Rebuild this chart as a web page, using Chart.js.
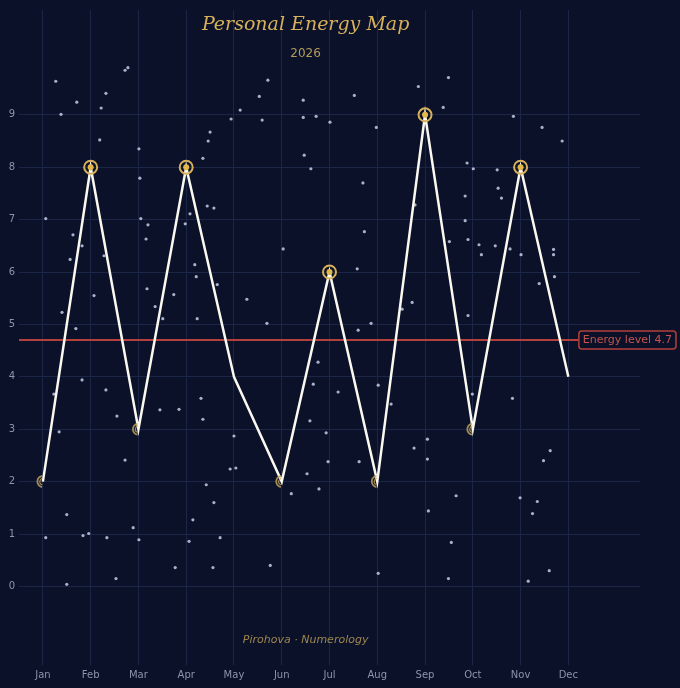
<!DOCTYPE html>
<html>
<head>
<meta charset="utf-8">
<script src="https://cdn.jsdelivr.net/npm/chart.js@4.4.1/dist/chart.umd.min.js"></script>
<style>
  html, body { margin: 0; padding: 0; background: #0a1128; }
  #wrap { width: 680px; height: 688px; }
</style>
</head>
<body>
<div id="wrap"><canvas id="energyChart" width="680" height="688"></canvas></div>
<script>
const months = ['Jan', 'Feb', 'Mar', 'Apr', 'May', 'Jun', 'Jul', 'Aug', 'Sep', 'Oct', 'Nov', 'Dec'];
const energy = [2, 8, 3, 8, 4, 2, 6, 2, 9, 3, 8, 4];
const yTicks = [0, 1, 2, 3, 4, 5, 6, 7, 8, 9];
const ENERGY_LEVEL = 4.7;

const TITLE = 'Personal Energy Map';
const SUBTITLE = '2026';
const FOOTER = 'Pirohova · Numerology';

// background stars (month index, value)
const starX = [0.27, 0.38, 0.71, 1.22, 1.32, 1.72, 1.78, 1.19, 2.01, 2.03, 0.06, 0.63, 2.05, 2.20, 2.16, 2.98, 3.08, 3.44, 3.58, 3.35,
  3.46, 3.50, 3.94, 4.13, 4.53, 4.71, 4.59, 5.45, 5.45, 5.72, 5.47, 5.61, 6.01, 6.52, 6.98, 7.86, 8.49, 8.38, 6.70, 6.73,
  7.79, 8.88, 9.01, 8.84, 8.84, 8.90, 9.51, 9.53, 9.60, 9.85, 10.45, 10.87, 0.82, 0.57, 1.28, 0.40, 0.69, 1.07, 0.23, 0.34,
  0.82, 1.32, 1.55, 1.72, 2.18, 2.35, 2.51, 2.74, 2.45, 2.85, 3.18, 3.21, 3.23, 3.65, 3.31, 3.35, 4.00, 3.92, 4.04, 4.27,
  4.69, 5.03, 5.76, 5.66, 5.59, 5.93, 5.97, 5.53, 6.18, 6.58, 6.60, 6.87, 7.52, 7.73, 7.02, 7.29, 6.62, 7.77, 8.05, 8.05,
  8.90, 8.99, 9.83, 9.13, 9.47, 9.18, 9.78, 10.01, 8.51, 10.69, 10.69, 10.39, 10.71, 10.62, 10.48, 0.50, 0.06, 0.84, 0.96, 1.34,
  1.89, 2.01, 0.50, 1.53, 2.77, 3.06, 3.14, 3.42, 3.58, 3.71, 3.56, 4.76, 5.20, 5.78, 8.65, 8.07, 8.55, 8.49, 7.02, 9.99,
  10.35, 10.25, 10.60, 10.16];
const starY = [9.64, 9.01, 9.24, 9.13, 9.41, 9.85, 9.90, 8.52, 8.35, 7.79, 7.02, 6.71, 7.02, 6.90, 6.63, 6.92, 7.11, 7.26, 7.22, 8.17,
  8.50, 8.67, 8.92, 9.09, 9.35, 9.66, 8.90, 9.28, 8.95, 8.97, 8.23, 7.97, 8.86, 9.37, 8.76, 9.54, 9.71, 9.14, 7.70, 6.77,
  7.28, 8.08, 7.97, 7.45, 6.98, 6.62, 7.95, 7.60, 7.41, 8.97, 8.76, 8.50, 6.50, 6.24, 6.31, 5.23, 4.92, 5.55, 3.67, 2.95,
  3.94, 3.75, 3.25, 2.41, 5.68, 5.34, 5.11, 5.57, 3.37, 3.38, 6.14, 5.91, 5.11, 5.76, 3.59, 3.19, 2.87, 2.24, 2.26, 5.48,
  5.02, 6.44, 4.28, 3.86, 3.16, 2.93, 2.38, 2.15, 3.71, 6.06, 4.89, 5.02, 5.29, 5.42, 3.84, 3.48, 2.38, 2.64, 2.81, 2.43,
  5.17, 3.67, 3.59, 6.52, 6.50, 6.33, 6.44, 6.33, 6.58, 6.43, 6.33, 5.78, 5.91, 2.59, 2.40, 1.37, 0.93, 0.97, 1.01, 0.93,
  1.12, 0.89, 0.04, 0.15, 0.36, 0.86, 1.27, 1.94, 1.60, 0.93, 0.36, 0.40, 1.77, 1.86, 1.73, 1.44, 0.84, 0.15, 0.25, 1.69,
  1.62, 1.39, 0.30, 0.10];

const GOLD = '#d6b05a';
const GRID = '#1b2647';

Chart.defaults.font.family = "'DejaVu Sans', sans-serif";

// red energy level line + boxed label, under the main line
const levelLine = {
  id: 'levelLine',
  beforeDatasetsDraw(chart) {
    const { ctx, chartArea, scales } = chart;
    const y = scales.y.getPixelForValue(ENERGY_LEVEL);
    const label = 'Energy level ' + ENERGY_LEVEL;
    ctx.save();
    ctx.font = "11px 'DejaVu Sans'";
    const w = ctx.measureText(label).width + 8;
    const boxRight = chart.width - 4;
    const boxLeft = boxRight - w;
    ctx.strokeStyle = '#b3403c';
    ctx.lineWidth = 2;
    ctx.beginPath();
    ctx.moveTo(chartArea.left, y);
    ctx.lineTo(boxLeft, y);
    ctx.stroke();
    ctx.fillStyle = '#0a1128';
    ctx.lineWidth = 1.5;
    ctx.beginPath();
    ctx.roundRect(boxLeft, y - 9, w, 18, 3);
    ctx.fill();
    ctx.stroke();
    ctx.fillStyle = '#c6524d';
    ctx.textAlign = 'left';
    ctx.textBaseline = 'middle';
    ctx.fillText(label, boxLeft + 4, y + 0.5);
    ctx.restore();
  }
};

// rings on the highs, crescents on the lows
const markers = {
  id: 'markers',
  afterDatasetsDraw(chart) {
    const { ctx, scales } = chart;
    ctx.save();
    energy.forEach((v, i) => {
      const x = scales.x.getPixelForValue(i);
      const y = scales.y.getPixelForValue(v);
      if (v >= 6) {
        ctx.strokeStyle = GOLD;
        ctx.lineWidth = 2;
        ctx.beginPath();
        ctx.arc(x, y, 6.5, 0, Math.PI * 2);
        ctx.stroke();
        ctx.fillStyle = '#e2b848';
        ctx.beginPath();
        ctx.arc(x, y, 3, 0, Math.PI * 2);
        ctx.fill();
      } else if (v <= 3) {
        ctx.strokeStyle = 'rgba(190,160,90,0.85)';
        ctx.lineWidth = 1.8;
        ctx.beginPath();
        ctx.arc(x, y, 5.5, Math.PI * 0.55, Math.PI * 1.45);
        ctx.stroke();
        ctx.lineWidth = 1.2;
        ctx.beginPath();
        ctx.arc(x + 0.5, y, 3.5, Math.PI * 0.6, Math.PI * 1.4);
        ctx.stroke();
      }
    });
    ctx.restore();
  }
};

// title, year and signature placed in data space
const texts = {
  id: 'texts',
  afterDraw(chart) {
    const { ctx, scales } = chart;
    const cx = scales.x.getPixelForValue(5.5);
    ctx.save();
    ctx.textAlign = 'center';
    ctx.textBaseline = 'middle';
    ctx.fillStyle = GOLD;
    ctx.font = "italic 19px 'DejaVu Serif'";
    ctx.fillText(TITLE, cx, scales.y.getPixelForValue(10.71));
    ctx.fillStyle = '#b39a5e';
    ctx.font = "12px 'DejaVu Sans'";
    ctx.fillText(SUBTITLE, cx, scales.y.getPixelForValue(10.16));
    ctx.fillStyle = '#9c8650';
    ctx.font = "italic 11px 'DejaVu Sans'";
    ctx.fillText(FOOTER, cx, scales.y.getPixelForValue(-1.03));
    ctx.restore();
  }
};

const ctx = document.getElementById('energyChart').getContext('2d');
new Chart(ctx, {
  type: 'scatter',
  data: {
    datasets: [
      {
        label: 'Energy',
        type: 'line',
        data: energy.map((v, i) => ({ x: i, y: v })),
        borderColor: '#fbf8ef',
        borderWidth: 2.5,
        pointRadius: 0,
        tension: 0,
        fill: false,
        order: 1
      },
      {
        label: 'Stars',
        data: starX.map((x, i) => ({ x: x, y: starY[i] })),
        backgroundColor: 'rgba(198,206,230,0.85)',
        borderWidth: 0,
        pointRadius: 1.6,
        order: 2
      }
    ]
  },
  options: {
    responsive: false,
    animation: false,
    layout: { padding: { top: 8, right: 40, left: 0, bottom: 0 } },
    plugins: {
      legend: { display: false },
      tooltip: { enabled: false }
    },
    scales: {
      x: {
        type: 'linear',
        min: -0.5,
        max: 12.5,
        afterBuildTicks: (scale) => { scale.ticks = months.map((m, i) => ({ value: i })); },
        afterFit: (scale) => { scale.height = 23; },
        ticks: {
          color: '#8c93ab',
          font: { size: 10 },
          padding: 4,
          callback: (v) => months[v]
        },
        grid: { color: GRID, lineWidth: 1, drawTicks: false },
        border: { display: false }
      },
      y: {
        min: -1.5,
        max: 11,
        afterBuildTicks: (scale) => { scale.ticks = yTicks.map(v => ({ value: v })); },
        afterFit: (scale) => { scale.width = 19; },
        ticks: {
          color: '#8c93ab',
          font: { size: 10 },
          padding: 4
        },
        grid: { color: GRID, lineWidth: 1, drawTicks: false },
        border: { display: false }
      }
    }
  },
  plugins: [levelLine, markers, texts, {
    id: 'bg',
    beforeDraw(chart) {
      chart.ctx.save();
      chart.ctx.fillStyle = '#0a1128';
      chart.ctx.fillRect(0, 0, chart.width, chart.height);
      chart.ctx.restore();
    }
  }]
});
</script>
</body>
</html>
